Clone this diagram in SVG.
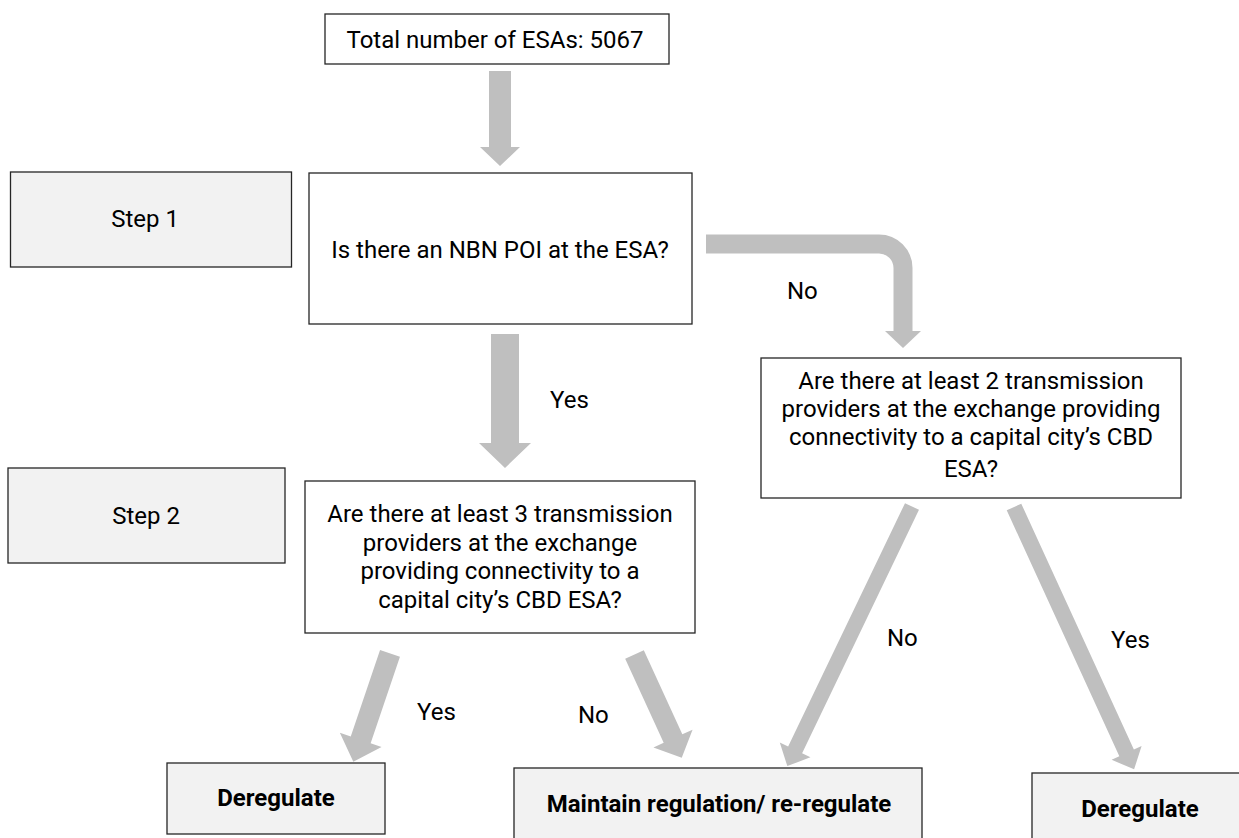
<svg xmlns="http://www.w3.org/2000/svg" width="1239" height="838" viewBox="0 0 1239 838">
<style>
.box{fill:#ffffff;stroke:#262626;stroke-width:1.3}
.grey{fill:#f2f2f2;stroke:#262626;stroke-width:1.3}
.t{font-family:Roboto,"Liberation Sans",sans-serif;font-size:24px;fill:#000;text-anchor:middle}
.b{font-weight:bold}
.l{font-family:Roboto,"Liberation Sans",sans-serif;font-size:24px;fill:#000}
.arr{fill:#bfbfbf;stroke:none}
</style>
<g id="connectors">
<polygon class="arr" points="489,71 511,71 511,147 520,147 500,166 480,147 489,147"/>
<polygon class="arr" points="491,334 519,334 519,443 531,443 505,468 479,443 491,443"/>
<path d="M706,244 H879 A24,24 0 0 1 903,268 V332" fill="none" stroke="#bfbfbf" stroke-width="19"/>
<polygon class="arr" points="885,331 921,331 903,348"/>
<polygon class="arr" transform="translate(390,653.3) rotate(108.7)" points="0,-10.5 91.4,-10.5 91.4,-22 114.4,0 91.4,22 91.4,10.5 0,10.5"/>
<polygon class="arr" transform="translate(634.5,654.5) rotate(65.4)" points="0,-10.25 92.5,-10.25 92.5,-21.5 113.5,0 92.5,21.5 92.5,10.25 0,10.25"/>
<polygon class="arr" transform="translate(912,506.5) rotate(115.65)" points="0,-7.75 270,-7.75 270,-17 288,0 270,17 270,7.75 0,7.75"/>
<polygon class="arr" transform="translate(1014,507) rotate(65.4)" points="0,-8 270.5,-8 270.5,-16.5 288.5,0 270.5,16.5 270.5,8 0,8"/>
<text class="l" x="550" y="408">Yes</text>
<text class="l" x="787" y="299">No</text>
<text class="l" x="417" y="720">Yes</text>
<text class="l" x="578" y="723">No</text>
<text class="l" x="887" y="646">No</text>
<text class="l" x="1111" y="648">Yes</text>
</g>
<g id="total">
<rect class="box" x="325" y="14" width="344" height="50"/>
<text class="t" x="495" y="48">Total number of ESAs: 5067</text>
</g>
<g id="step1">
<rect class="grey" x="10.5" y="172" width="281" height="95"/>
<text class="t" x="145" y="227">Step 1</text>
</g>
<g id="q1">
<rect class="box" x="309" y="173" width="383" height="151"/>
<text class="t" x="500" y="258">Is there an NBN POI at the ESA?</text>
</g>
<g id="q2">
<rect class="box" x="761" y="358" width="420" height="140"/>
<text class="t" x="971" y="389">Are there at least 2 transmission</text>
<text class="t" x="971" y="417">providers at the exchange providing</text>
<text class="t" x="971" y="445">connectivity to a capital city’s CBD</text>
<text class="t" x="971" y="477">ESA?</text>
</g>
<g id="step2">
<rect class="grey" x="8" y="468" width="277" height="95"/>
<text class="t" x="146" y="524">Step 2</text>
</g>
<g id="q3">
<rect class="box" x="305" y="481" width="390" height="152"/>
<text class="t" x="500" y="522">Are there at least 3 transmission</text>
<text class="t" x="500" y="551">providers at the exchange</text>
<text class="t" x="500" y="579">providing connectivity to a</text>
<text class="t" x="500" y="608">capital city’s CBD ESA?</text>
</g>
<g id="dereg-left">
<rect class="grey" x="167" y="763" width="218" height="71"/>
<text class="t b" x="276" y="806">Deregulate</text>
</g>
<g id="maintain">
<rect class="grey" x="514" y="768" width="408" height="76"/>
<text class="t b" x="719" y="812">Maintain regulation/ re-regulate</text>
</g>
<g id="dereg-right">
<rect class="grey" x="1032" y="773" width="212" height="71"/>
<text class="t b" x="1140" y="817">Deregulate</text>
</g>
</svg>
